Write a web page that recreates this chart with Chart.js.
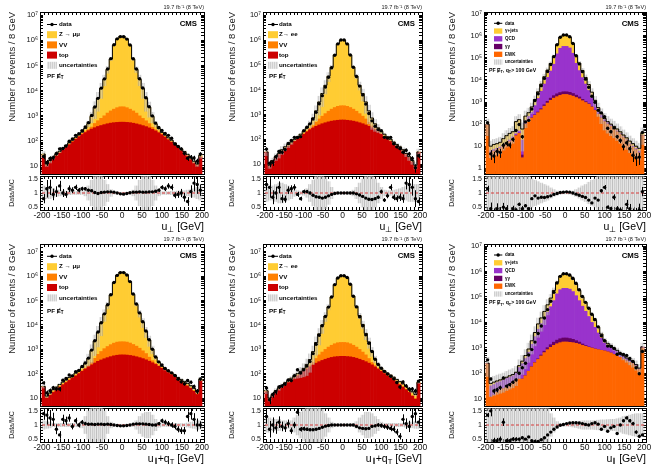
<!DOCTYPE html>
<html>
<head>
<meta charset="utf-8">
<script src="https://cdn.jsdelivr.net/npm/chart.js@4.4.1/dist/chart.umd.min.js"></script>
<style>
  body { margin: 0; background: #fff; }
  #fig { position: relative; width: 654px; height: 464px; overflow: hidden; background: #fff; }
  #fig canvas { position: absolute; }
</style>
</head>
<body>
<div id="fig"></div>
<script>
// bin centres, 8 GeV bins from -200 to 200
const binCenters = [-196,-188,-180,-172,-164,-156,-148,-140,-132,-124,-116,-108,-100,-92,-84,-76,-68,-60,-52,-44,-36,-28,-20,-12,-4,
                    4,12,20,28,36,44,52,60,68,76,84,92,100,108,116,124,132,140,148,156,164,172,180,188,196];

// ---- panel 1 : Z -> mumu, u_perp
const top1 = [25,10,14,19,25,32,42,55,70,90,115,145,180,215,255,295,335,375,410,445,480,510,530,545,555,
              555,545,530,505,475,440,405,370,330,290,250,210,175,140,110,88,68,52,40,31,24,18,13,10,22];
const vv1 = [2,1,1,1.5,2,2.5,3,4,5,6,8,10,13,18,30,60,160,260,380,550,800,1050,1300,1550,1720,
             1720,1550,1300,1050,800,550,380,260,160,60,30,18,13,10,8,6,5,4,3,2.5,2,1.5,1,1,2];
const zmm1 = [3,1,1.5,2,3,4,5,7,9,12,15,20,30,80,200,600,1700,4400,11500,27500,69000,179000,649000,1148000,1448000,
              1448000,1148000,649000,179000,69000,27500,11500,4400,1700,600,200,80,30,20,15,12,9,7,5,4,3,2,1.5,1,3];
const ratio1 = [0.8,1.15,1.2,0.95,1.05,1.25,1.0,0.95,1.15,1.1,1.2,1.1,1.15,1.15,1.1,1.08,1.02,0.98,1.02,1.03,1.04,1.04,1.03,1.0,0.97,
                0.96,0.98,1.01,1.03,1.03,1.04,1.03,1.03,1.04,1.04,1.06,1.1,1.2,1.15,1.25,1.2,0.92,0.95,1.0,0.85,0.7,1.05,1.35,1.3,1.1];
const unc1 = [0.25,0.2,0.2,0.15,0.12,0.1,0.08,0.07,0.06,0.05,0.05,0.05,0.05,0.1,0.25,0.45,0.65,0.7,0.6,0.45,0.3,0.12,0.04,0.02,0.02,
              0.02,0.02,0.04,0.1,0.25,0.45,0.6,0.7,0.6,0.45,0.25,0.1,0.05,0.05,0.05,0.06,0.06,0.07,0.08,0.08,0.1,0.12,0.15,0.2,0.25];

// ---- panel 2 : Z -> ee, u_perp
const top2 = [30,8,12,18,24,32,42,52,65,82,100,125,160,200,245,290,335,380,425,465,505,540,565,585,600,
              600,585,565,540,505,465,425,380,335,290,245,200,160,125,100,82,65,52,42,32,24,18,12,8,30];
const vv2 = [0.5,0.5,0.5,1,1,1.5,2,2.5,3,4,5,6,8,12,25,60,150,280,430,620,850,1100,1350,1550,1650,
             1650,1550,1350,1100,850,620,430,280,150,60,25,12,8,6,5,4,3,2.5,2,1.5,1,1,0.5,0.5,0.5];
const zee2 = [0.5,0.5,1.5,1,2,4.5,6,7.5,10,14,20,29,42,78,150,370,915,2540,6145,13915,33645,78360,248085,697865,997750,
              997750,697865,248085,78360,33645,13915,6145,2540,915,370,150,78,42,29,20,14,10,7.5,6,4.5,2,1,1.5,0.5,0.5];
const ratio2 = [1.3,1.2,0.85,1.0,1.2,0.8,0.78,1.1,1.15,1.2,0.95,0.8,1.05,1.05,1.0,0.92,0.87,0.85,0.82,0.85,0.9,0.95,0.98,1.0,1.0,
                1.0,1.0,1.0,1.0,0.97,0.93,0.88,0.82,0.78,0.77,0.8,0.85,1.05,0.75,0.9,1.2,0.85,0.8,0.85,0.8,1.35,1.3,1.2,0.8,0.7];
const unc2 = [0.3,0.25,0.25,0.3,0.35,0.35,0.3,0.25,0.2,0.12,0.08,0.06,0.08,0.15,0.3,0.45,0.6,0.7,0.7,0.55,0.4,0.2,0.06,0.02,0.02,
              0.02,0.02,0.05,0.1,0.2,0.35,0.5,0.65,0.7,0.65,0.5,0.35,0.2,0.1,0.08,0.08,0.1,0.12,0.15,0.2,0.25,0.3,0.3,0.3,0.3];

// ---- panel 3 : gamma+jets, u_perp
const ewk3 = [90,5,6,7,8,10,12,16,22,30,38,3,100,140,190,250,330,450,650,900,1200,1500,1750,2000,2200,
              2200,2050,1850,1600,1400,1150,950,800,600,420,280,190,130,100,80,60,45,35,25,18,12,9,7,5,30];
const gg3 = [0.01,0.01,0.01,0.01,0.01,0.01,0.01,0.01,0.3,0.5,0.7,1,2,3,6,12,25,50,100,180,300,450,600,700,720,
             720,700,600,450,300,180,100,50,25,12,6,3,2,1,0.7,0.5,0.3,0.01,0.01,0.01,0.01,0.01,0.01,0.01,0.01];
const qcd3 = [2,1,1,1,1,1,2,3,4,6,10,15,40,80,150,450,1100,2600,5800,12000,24000,50000,150000,270000,330000,
              330000,280000,160000,55000,25000,11500,5500,2500,1100,450,180,70,30,18,10,7,5,3,2,1.5,1,1,1,1,1];
const gjets3 = [8,4,5,5,6,11,16,19,19,93,111,41,88,107,254,588,1445,3400,7450,14900,30500,68000,248000,577000,717000,
                717000,597000,287500,73000,31300,14170,6450,2850,1075,318,94,37,18,11,9,12,10,7,5,4.5,4,3,2,2,9];
const ratio3 = [1.15,0.45,0.3,0.45,0.35,0.5,0.45,0.3,0.45,0.4,0.6,0.45,0.55,0.45,0.8,0.9,0.82,0.85,0.84,0.87,0.9,0.95,0.98,1.02,1.03,
                1.04,1.03,1.0,0.96,0.92,0.88,0.84,0.75,0.65,0.82,0.75,1.08,1.2,0.5,0.45,0.85,0.45,0.4,0.3,0.6,0.45,0.3,0.3,0.4,1.05];
const unc3 = [0.7,0.7,0.7,0.7,0.7,0.7,0.7,0.7,0.7,0.7,0.7,0.9,0.7,0.6,0.5,0.45,0.4,0.35,0.3,0.25,0.18,0.12,0.07,0.04,0.03,
              0.03,0.04,0.07,0.12,0.18,0.25,0.3,0.38,0.45,0.5,0.6,0.65,0.7,0.7,0.7,0.7,0.7,0.7,0.7,0.7,0.7,0.7,0.7,0.7,0.7];

// ---- panel 4 : Z -> mumu, u_par + qT
const top4 = [28,10,13,17,22,28,35,43,53,65,80,100,125,155,190,230,275,320,365,410,455,500,540,570,590,
              590,580,560,530,495,455,415,370,325,280,240,200,165,135,110,90,72,58,47,38,31,25,19,14,50];
const vv4 = [1,0.5,0.5,1,1,1.5,2,2.5,3,4,5,6,8,12,25,60,150,300,450,650,850,1050,1250,1400,1450,
             1450,1400,1250,1050,850,650,450,300,150,60,25,14,10,8,6,5,4,3,2.5,2,1.5,1,1,1,2];
const zmm4 = [1,1.5,2.5,4,5,6.5,8,9.5,14,16,20,29,47,93,205,610,1775,4380,11185,26940,63695,168450,548210,1098030,1447960,
              1447960,1148020,598190,178420,68655,28895,12135,4830,1925,660,215,76,25,7,9,13,12,9,8.5,8,7.5,6,5,4,8];
const ratio4 = [1.4,1.35,1.25,1.2,0.85,0.65,1.2,1.15,1.25,0.95,1.15,1.0,1.1,1.05,1.03,1.03,1.02,1.03,1.03,1.02,1.03,1.02,1.0,0.98,0.97,
                0.97,0.98,1.0,1.03,1.04,1.04,1.04,1.03,1.02,1.0,1.0,1.05,1.15,1.1,1.05,1.0,0.95,0.85,0.8,0.8,1.3,1.4,1.2,1.0,1.0];
const unc4 = [0.15,0.12,0.1,0.06,0.06,0.06,0.06,0.06,0.06,0.06,0.06,0.06,0.1,0.3,0.5,0.7,0.75,0.75,0.7,0.5,0.3,0.1,0.03,0.02,0.02,
              0.02,0.02,0.03,0.06,0.15,0.3,0.4,0.45,0.45,0.35,0.2,0.08,0.05,0.05,0.05,0.05,0.05,0.05,0.05,0.05,0.07,0.1,0.12,0.15,0.15];

// ---- panel 5 : Z -> ee, u_par + qT
const top5 = [18,8,12,17,22,28,35,43,53,65,80,100,125,155,190,230,270,310,350,390,430,465,490,505,515,
              515,505,490,465,430,390,350,310,270,230,190,155,125,100,80,65,53,43,35,28,22,17,12,9,40];
const vv5 = [0.5,0.5,0.5,1,1,1.5,2,2.5,3,4,5,6,8,12,25,60,150,280,420,600,800,1000,1200,1350,1400,
             1400,1350,1200,1000,800,600,420,280,150,60,25,12,8,6,5,4,3,2.5,2,1.5,1,1,0.5,0.5,1];
const zee5 = [1.5,1.5,1.5,2,3,3.5,5,6.5,9,13,15,19,32,73,165,510,1480,3710,9230,22010,53770,138535,448310,848145,1048085,
              1048085,878145,468310,148535,56770,23010,9730,3910,1580,560,185,73,37,24,20,19,16,12.5,10,8.5,7,6,5.5,4.5,4];
const ratio5 = [1.3,0.85,1.0,0.9,1.1,0.95,0.9,1.05,0.8,1.0,1.45,0.85,0.87,0.85,0.83,0.83,0.85,0.88,0.92,0.96,0.98,1.0,1.0,1.0,1.0,
                1.0,1.0,1.0,1.0,0.95,0.9,0.88,0.87,0.88,0.95,0.97,1.0,0.98,0.95,0.92,0.88,0.85,0.75,0.6,1.2,1.05,0.95,1.3,1.4,1.1];
const unc5 = [0.25,0.25,0.2,0.2,0.2,0.15,0.15,0.12,0.15,0.25,0.35,0.45,0.55,0.65,0.7,0.7,0.7,0.65,0.55,0.4,0.25,0.1,0.03,0.02,0.02,
              0.02,0.02,0.03,0.06,0.12,0.25,0.35,0.45,0.45,0.4,0.3,0.2,0.1,0.06,0.06,0.06,0.06,0.06,0.06,0.06,0.08,0.1,0.1,0.12,0.12];

// ---- panel 6 : gamma+jets, u_par
const ewk6 = [240,12,14,18,22,25,28,30,40,55,60,60,80,120,180,260,350,480,650,850,1050,1250,1450,1600,1700,
              1700,1650,1600,1500,1400,1250,1150,1050,980,900,850,800,760,700,630,550,480,420,360,310,270,240,190,140,1000];
const gg6 = [0.01,0.01,0.01,0.01,0.01,0.01,0.01,0.01,0.01,0.01,0.01,0.01,0.01,0.01,3,8,20,45,90,170,280,420,560,680,740,
             740,680,560,420,280,170,90,45,20,10,5,3,2,1,0.01,0.01,0.01,0.01,0.01,0.01,0.01,0.01,0.01,0.01,0.01];
const qcd6 = [5,20,22,25,25,28,35,40,40,45,110,180,300,550,1200,2500,5000,8500,14000,24000,40000,70000,130000,190000,215000,
              215000,200000,160000,110000,70000,42000,26000,16000,9000,5500,3000,1600,800,550,450,350,250,150,100,80,55,35,25,15,80];
const gjets6 = [5,8,9,7,8,7,7,10,10,10,30,60,120,230,517,1232,3330,5975,12260,23980,48670,108330,247990,457720,582560,
                562560,477670,337840,208080,108320,56580,32760,18905,10000,5590,2645,1097,438,249,170,100,70,30,20,10,5,5,5,5,20];
const ratio6 = [1.35,1.5,0.45,0.45,0.5,1.1,0.45,0.45,0.5,0.5,0.5,0.55,0.5,0.58,0.45,0.42,0.42,0.48,0.55,0.65,0.75,0.85,0.93,0.99,1.02,
                1.05,1.07,1.08,1.08,1.07,1.05,1.02,1.0,1.05,1.08,1.03,0.85,0.95,0.78,0.9,0.95,0.7,1.0,1.15,1.25,1.15,1.05,0.75,0.6,0.65];
const unc6 = [0.7,0.7,0.7,0.7,0.7,0.7,0.7,0.7,0.7,0.7,0.7,0.7,0.7,0.7,0.7,0.7,0.7,0.7,0.7,0.6,0.4,0.25,0.12,0.06,0.04,
              0.04,0.05,0.07,0.09,0.12,0.15,0.15,0.15,0.15,0.16,0.17,0.18,0.18,0.19,0.2,0.2,0.22,0.25,0.3,0.32,0.35,0.38,0.4,0.4,0.4];

const FONT = "'Liberation Sans', Arial, Helvetica, sans-serif";
Chart.defaults.font.family = FONT;
Chart.defaults.color = '#111';

const COL = { z: '#ffcc33', vv: '#ff8000', top: '#cc0000', qcd: '#9933cc', gg: '#660066', ewk: '#ff6600' };
const LUMI = '19.7 fb\u207b\u00b9 (8 TeV)';
const MET = [['PF ', 0], ['E', 2], ['T', 1]];
const MET_QT = [['PF ', 0], ['E', 2], ['T', 1], [', q', 0], ['T', 1], ['> 100 GeV', 0]];
const X_PERP = [['u', 0], ['\u22a5', 1], [' [GeV]', 0]];
const X_PARQ = [['u', 0], ['\u2225', 1], ['+q', 0], ['T', 1], [' [GeV]', 0]];
const X_PAR = [['u', 0], ['\u2225', 1], [' [GeV]', 0]];

const zLeg = (name) => [['data', 'data'], [name, COL.z], ['VV', COL.vv], ['top', COL.top], ['uncertainties', 'unc']];
const gLeg = [['data', 'data'], ['\u03b3+jets', COL.z], ['QCD', COL.qcd], ['\u03b3\u03b3', COL.gg], ['EWK', COL.ewk], ['uncertainties', 'unc']];
const bigLg = (x, y, dy, tx) => ({ x, y, dy, bw: 10, bh: 7, fs: 6.2, tx });
const smallLg = (y, dy) => ({ x: 58, y, dy, bw: 8.3, bh: 5.3, fs: 4.5, tx: 69 });

const panels = [
  { ox: 0, oy: 0, L: 40, R: 204, ymin: 4.8, ymax: 1.35e7, ytx: 12, xt: X_PERP,
    comps: [[top1, COL.top], [vv1, COL.vv], [zmm1, COL.z]], ratio: ratio1, unc: unc1,
    legend: zLeg('Z \u2192 \u03bc\u03bc'), lg: bigLg(47, 24.5, 10.2, 59), note: { parts: MET, x: 47, y: 76, fs: 6.2 } },
  { ox: 218, oy: 0, L: 45, R: 204, ymin: 4, ymax: 1.35e7, ytx: 14.5, xt: X_PERP,
    comps: [[top2, COL.top], [vv2, COL.vv], [zee2, COL.z]], ratio: ratio2, unc: unc2,
    legend: zLeg('Z\u2192 ee'), lg: bigLg(50, 24.5, 10.2, 61), note: { parts: MET, x: 51, y: 76, fs: 6.2 } },
  { ox: 436, oy: 0, L: 48, R: 210, ymin: 0.55, ymax: 1.2e7, ytx: 16.5, xt: X_PERP,
    comps: [[ewk3, COL.ewk], [gg3, COL.gg], [qcd3, COL.qcd], [gjets3, COL.z]], ratio: ratio3, unc: unc3,
    legend: gLeg, lg: smallLg(23.3, 7.75), note: { parts: MET_QT, x: 53, y: 70.7, fs: 5.2 } },
  { ox: 0, oy: 232, L: 40, R: 204, ymin: 4.7, ymax: 2.1e7, ytx: 12.5, xt: X_PARQ,
    comps: [[top4, COL.top], [vv4, COL.vv], [zmm4, COL.z]], ratio: ratio4, unc: unc4,
    legend: zLeg('Z \u2192 \u03bc\u03bc'), lg: bigLg(47, 24.3, 10.4, 59), note: { parts: MET, x: 47, y: 79, fs: 6.2 } },
  { ox: 218, oy: 232, L: 45, R: 204, ymin: 4.7, ymax: 2.1e7, ytx: 14.5, xt: X_PARQ,
    comps: [[top5, COL.top], [vv5, COL.vv], [zee5, COL.z]], ratio: ratio5, unc: unc5,
    legend: zLeg('Z\u2192 ee'), lg: bigLg(50, 24.3, 10.4, 61), note: { parts: MET, x: 51, y: 79, fs: 6.2 } },
  { ox: 436, oy: 232, L: 48, R: 210, ymin: 5.2, ymax: 1.2e7, ytx: 16.5, xt: X_PAR,
    comps: [[ewk6, COL.ewk], [gg6, COL.gg], [qcd6, COL.qcd], [gjets6, COL.z]], ratio: ratio6, unc: unc6,
    legend: gLeg, lg: smallLg(23, 7.8), note: { parts: MET_QT, x: 53, y: 71, fs: 5.2 } }
];

const SUP = { '0': '\u2070', '1': '\u00b9', '2': '\u00b2', '3': '\u00b3', '4': '\u2074', '5': '\u2075', '6': '\u2076', '7': '\u2077', '8': '\u2078', '9': '\u2079' };
function logLabel(v) {
  const e = Math.log10(v), n = Math.round(e);
  if (Math.abs(e - n) > 1e-6) return '';
  if (n === 0) return '1';
  if (n === 1) return '10';
  return '10' + String(n).split('').map(d => SUP[d]).join('');
}

// light grey band with fine vertical hatching
function hatch(ctx) {
  const t = document.createElement('canvas');
  t.width = 2; t.height = 2;
  const g = t.getContext('2d');
  g.fillStyle = 'rgba(160,160,160,0.5)'; g.fillRect(0, 0, 1, 2);
  g.fillStyle = 'rgba(205,205,205,0.5)'; g.fillRect(1, 0, 1, 2);
  return ctx.createPattern(t, 'repeat');
}

// text with subscripts (flag 1) and a slashed letter (flag 2)
function drawParts(ctx, parts, x, y, size, bold, alignRight) {
  const f = s => (bold ? 'bold ' : '') + s + 'px ' + FONT;
  const sizes = parts.map(p => p[1] === 1 ? size * 0.72 : size);
  const widths = parts.map((p, k) => { ctx.font = f(sizes[k]); return ctx.measureText(p[0]).width; });
  let cx = alignRight ? x - widths.reduce((a, b) => a + b, 0) : x;
  ctx.textAlign = 'left';
  ctx.textBaseline = 'middle';
  parts.forEach((p, k) => {
    ctx.font = f(sizes[k]);
    ctx.fillText(p[0], cx, y + (p[1] === 1 ? size * 0.3 : 0));
    if (p[1] === 2) {
      ctx.lineWidth = Math.max(0.6, size * 0.1);
      ctx.beginPath();
      ctx.moveTo(cx + widths[k] * 0.15, y + size * 0.42);
      ctx.lineTo(cx + widths[k] * 0.85, y - size * 0.5);
      ctx.stroke();
    }
    cx += widths[k];
  });
}

const errorBars = {
  id: 'errorBars',
  afterDatasetsDraw(chart) {
    const ctx = chart.ctx, ys = chart.scales.y, a = chart.chartArea;
    chart.data.datasets.forEach((ds, i) => {
      if (!ds.errors) return;
      const meta = chart.getDatasetMeta(i);
      ctx.save();
      ctx.beginPath(); ctx.rect(a.left, a.top, a.right - a.left, a.bottom - a.top); ctx.clip();
      ctx.strokeStyle = '#000'; ctx.lineWidth = 1;
      meta.data.forEach((pt, k) => {
        const v = ds.data[k], e = ds.errors[k];
        if (!(v > 0)) return;
        const lo = Math.max(v - e, ys.min), hi = v + e;
        const x = Math.round(pt.x) + 0.5;
        ctx.beginPath();
        ctx.moveTo(x, ys.getPixelForValue(lo));
        ctx.lineTo(x, ys.getPixelForValue(hi));
        ctx.stroke();
      });
      ctx.restore();
    });
  }
};

function decor(p, pat, isMain) {
  return {
    id: 'decor',
    afterDraw(chart) {
      const ctx = chart.ctx;
      ctx.save();
      ctx.fillStyle = '#000'; ctx.strokeStyle = '#000';
      if (isMain) {
        ctx.textAlign = 'right'; ctx.textBaseline = 'alphabetic';
        ctx.font = '5.6px ' + FONT; ctx.fillStyle = '#222';
        ctx.fillText(LUMI, p.R, 8.5);
        ctx.fillStyle = '#000';
        ctx.font = 'bold 7.8px ' + FONT;
        ctx.fillText('CMS', p.R - 7, 26);
        const lg = p.lg;
        p.legend.forEach((it, k) => {
          const y = lg.y + k * lg.dy;
          if (it[1] === 'data') {
            ctx.lineWidth = 1;
            ctx.beginPath(); ctx.moveTo(lg.x, y); ctx.lineTo(lg.x + lg.bw, y); ctx.stroke();
            ctx.beginPath(); ctx.arc(lg.x + lg.bw / 2, y, 1.7, 0, 2 * Math.PI); ctx.fill();
          } else {
            ctx.fillStyle = it[1] === 'unc' ? pat : it[1];
            ctx.fillRect(lg.x, y - lg.bh / 2, lg.bw, lg.bh);
            ctx.fillStyle = '#000';
          }
          ctx.font = 'bold ' + lg.fs + 'px ' + FONT;
          ctx.textAlign = 'left'; ctx.textBaseline = 'middle';
          ctx.fillText(it[0], lg.tx, y);
        });
        drawParts(ctx, p.note.parts, p.note.x, p.note.y, p.note.fs, true, false);
      } else {
        drawParts(ctx, p.xt, p.R, 53, 10.5, false, true);
      }
      ctx.restore();
    }
  };
}

const tickGrid = { drawOnChartArea: false, tickLength: -3, color: '#000', lineWidth: 1 };
const frameBorder = { display: true, color: '#000', width: 1 };
// fixed axis sizes, and no automatic label padding, so the frames sit where the reference has them
const fixSize = (w, h) => s => {
  if (w !== null) s.width = w;
  if (h !== null) s.height = h;
  s.paddingTop = 0; s.paddingBottom = 0; s.paddingLeft = 0; s.paddingRight = 0;
};

function build(p) {
  const fig = document.getElementById('fig');
  const mk = (top, h) => {
    const c = document.createElement('canvas');
    c.width = 218; c.height = h;
    c.style.left = p.ox + 'px'; c.style.top = top + 'px';
    c.style.width = '218px'; c.style.height = h + 'px';
    fig.appendChild(c);
    return c;
  };
  const cMain = mk(p.oy, 176);
  const cRat = mk(p.oy + 174, 58);

  const total = binCenters.map((_, i) => p.comps.reduce((s, c) => s + c[0][i], 0));
  const data = total.map((t, i) => p.ratio[i] * t);
  const patMain = hatch(cMain.getContext('2d'));
  const patRat = hatch(cRat.getContext('2d'));

  const mainSets = [
    { type: 'line', label: 'data', data: data, errors: data.map(n => Math.sqrt(n)), showLine: false,
      pointRadius: 1.7, pointBackgroundColor: '#000', pointBorderWidth: 0, stack: 'pts' },
    { type: 'line', label: 'total', data: total, stepped: 'middle', borderColor: '#000', borderWidth: 1,
      pointRadius: 0, fill: false, stack: 'tot' },
    { type: 'bar', label: 'uncertainties', data: total.map((t, i) => [t * Math.max(1 - p.unc[i], 0.03), t * (1 + p.unc[i])]),
      backgroundColor: patMain, grouped: false, stack: 'unc', barPercentage: 1, categoryPercentage: 1, borderWidth: 0 }
  ];
  p.comps.forEach((c, k) => mainSets.push({ type: 'bar', label: 'mc' + k, data: c[0], backgroundColor: c[1], stack: 'mc',
    barPercentage: 1, categoryPercentage: 1, borderWidth: 0 }));

  new Chart(cMain, {
    type: 'bar',
    data: { labels: binCenters, datasets: mainSets },
    options: {
      responsive: false, animation: false, events: [], devicePixelRatio: 1,
      layout: { autoPadding: false, padding: { left: 0, top: 12, right: 218 - p.R, bottom: 2 } },
      plugins: { legend: { display: false }, tooltip: { enabled: false } },
      scales: {
        x: { type: 'linear', min: -200, max: 200, ticks: { display: false, stepSize: 10 }, grid: tickGrid, border: frameBorder,
             afterFit: fixSize(null, 0) },
        y: { type: 'logarithmic', stacked: true, min: p.ymin, max: p.ymax,
             ticks: { autoSkip: false, padding: 5, font: { size: 7.5 }, color: '#111', callback: v => logLabel(v) },
             grid: tickGrid, border: frameBorder,
             title: { display: true, text: 'Number of events / 8 GeV', align: 'end', color: '#222', font: { size: 9.5 },
                      padding: { top: p.ytx - 5.7, bottom: 0 } },
             afterFit: fixSize(p.L, null) },
        xt: { type: 'linear', position: 'top', min: -200, max: 200, ticks: { display: false, stepSize: 10 }, grid: tickGrid,
              border: frameBorder, afterFit: fixSize(null, 0) },
        yr: { type: 'logarithmic', position: 'right', min: p.ymin, max: p.ymax, ticks: { display: false },
              grid: tickGrid, border: frameBorder, afterFit: fixSize(0, null) }
      }
    },
    plugins: [errorBars, decor(p, patMain, true)]
  });

  const ratioSets = [
    { type: 'line', label: 'data/mc', data: p.ratio, errors: data.map((n, i) => Math.sqrt(n) / total[i]), showLine: false,
      pointRadius: 1.7, pointBackgroundColor: '#000', pointBorderWidth: 0 },
    { type: 'line', label: 'unity', data: [{ x: -200, y: 1 }, { x: 200, y: 1 }], borderColor: 'rgba(215,40,40,0.9)',
      borderDash: [3, 2], borderWidth: 1, pointRadius: 0 },
    { type: 'bar', label: 'uncertainties', data: p.unc.map(u => [1 - u, 1 + u]), backgroundColor: patRat, grouped: false,
      barPercentage: 1, categoryPercentage: 1, borderWidth: 0 }
  ];

  new Chart(cRat, {
    type: 'bar',
    data: { labels: binCenters, datasets: ratioSets },
    options: {
      responsive: false, animation: false, events: [], devicePixelRatio: 1,
      layout: { autoPadding: false, padding: { left: 0, top: 2, right: 218 - p.R, bottom: 0 } },
      plugins: { legend: { display: false }, tooltip: { enabled: false } },
      scales: {
        x: { type: 'linear', min: -200, max: 200,
             ticks: { stepSize: 10, autoSkip: false, maxRotation: 0, padding: 4, font: { size: 8.5 }, color: '#111',
                      callback: v => (Math.round(v) % 50 === 0 ? String(Math.round(v)) : '') },
             grid: tickGrid, border: frameBorder, afterFit: fixSize(null, 22) },
        y: { type: 'linear', min: 0.4, max: 1.6,
             ticks: { stepSize: 0.1, autoSkip: false, padding: 5, font: { size: 7 }, color: '#111',
                      callback: v => (Math.abs(v - 0.5) < 1e-6 ? '0.5' : Math.abs(v - 1) < 1e-6 ? '1' : Math.abs(v - 1.5) < 1e-6 ? '1.5' : '') },
             grid: tickGrid, border: frameBorder,
             title: { display: true, text: 'Data/MC', align: 'center', color: '#222', font: { size: 7 },
                      padding: { top: p.ytx - 4.2, bottom: 0 } },
             afterFit: fixSize(p.L, null) },
        xt: { type: 'linear', position: 'top', min: -200, max: 200, ticks: { display: false, stepSize: 10 }, grid: tickGrid,
              border: frameBorder, afterFit: fixSize(null, 0) },
        yr: { type: 'linear', position: 'right', min: 0.4, max: 1.6, ticks: { display: false, stepSize: 0.1 }, grid: tickGrid,
              border: frameBorder, afterFit: fixSize(0, null) }
      }
    },
    plugins: [errorBars, decor(p, patRat, false)]
  });
}

panels.forEach(build);
</script>
</body>
</html>
